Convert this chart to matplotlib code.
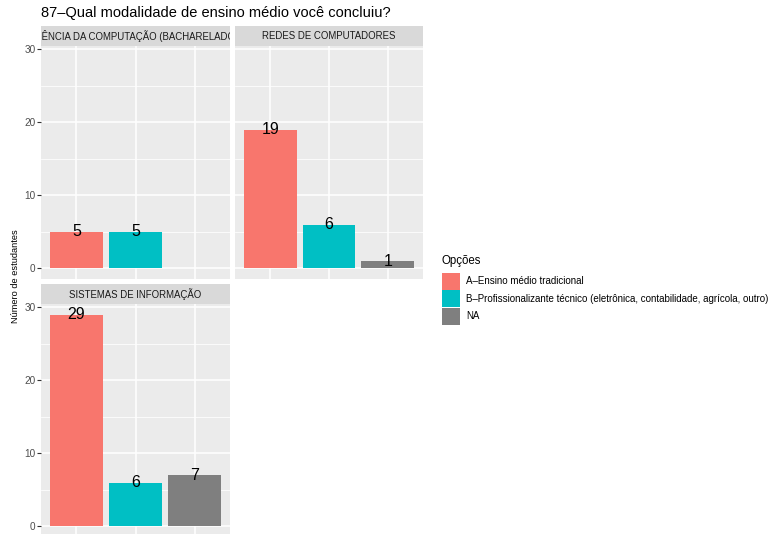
import matplotlib.pyplot as plt
from matplotlib.patches import Rectangle

plt.rcParams['font.family'] = ['Liberation Sans', 'DejaVu Sans']

cursos = ["CIÊNCIA DA COMPUTAÇÃO (BACHARELADO)", "REDES DE COMPUTADORES", "SISTEMAS DE INFORMAÇÃO"]
opcoes = ["A–Ensino médio tradicional",
          "B–Profissionalizante técnico (eletrônica, contabilidade, agrícola, outro)",
          "NA"]
cores = ["#F8766D", "#00BFC4", "#7F7F7F"]
cc_vals = [5, 5, None]
redes_vals = [19, 6, 1]
si_vals = [29, 6, 7]
valores = [cc_vals, redes_vals, si_vals]
yticks = [0, 10, 20, 30]

W, H = 769, 534
fig = plt.figure(figsize=(W / 100, H / 100), dpi=100)
fig.patch.set_facecolor("white")


def rect(x0, y0, x1, y1):
    # pixel box (top-left origin) -> figure fraction
    return [x0 / W, (H - y1) / H, (x1 - x0) / W, (y1 - y0) / H]


# (panel box, strip box, show y labels, show x ticks)
paineis = [
    ((41, 46, 230, 279), (41, 26, 230, 46), True, False),
    ((235, 46, 423, 279), (235, 26, 423, 46), False, False),
    ((41, 304, 230, 537), (41, 284, 230, 304), True, True),
]

for (pbox, sbox, ylab, xtk), nome, vals in zip(paineis, cursos, valores):
    ax = fig.add_axes(rect(*pbox))
    ax.set_facecolor("#EBEBEB")
    for s in ax.spines.values():
        s.set_visible(False)
    ax.set_xlim(0.4, 3.6)
    ax.set_ylim(-1.45, 30.45)
    for y in [5, 15, 25]:
        ax.axhline(y, color="white", lw=0.55, zorder=0)
    for y in yticks:
        ax.axhline(y, color="white", lw=1.1, zorder=0)
    for x in [1, 2, 3]:
        ax.axvline(x, color="white", lw=1.1, zorder=0)
    for i, v in enumerate(vals):
        if v is None:
            continue
        ax.bar(i + 1, v, width=0.9, color=cores[i], zorder=2)
        ax.text(i + 1, v, str(v), ha="center", va="center", fontsize=11.5,
                color="black", zorder=3)
    ax.set_yticks(yticks)
    ax.set_xticks([1, 2, 3])
    ax.tick_params(axis="x", length=2.75 if xtk else 0, color="#333333",
                   width=0.8, labelbottom=False)
    if ylab:
        ax.set_yticklabels([str(t) for t in yticks])
        ax.tick_params(axis="y", length=2.75, color="#333333", width=0.8,
                       labelsize=7.2, labelcolor="#4D4D4D", pad=1.2)
    else:
        ax.tick_params(axis="y", length=0, labelleft=False)

    sx = fig.add_axes(rect(*sbox))
    sx.set_facecolor("#D9D9D9")
    sx.set_xticks([])
    sx.set_yticks([])
    for s in sx.spines.values():
        s.set_visible(False)
    sx.text(0.5, 0.5, nome, ha="center", va="center", fontsize=6.9,
            color="#1A1A1A", transform=sx.transAxes, clip_on=True)

fig.text(41 / W, 1 - 13.5 / H, "87–Qual modalidade de ensino médio você concluiu?",
         ha="left", va="center", fontsize=10.5)
fig.text(15 / W, 1 - 276 / H, "Número de estudantes", rotation=90,
         ha="center", va="center", fontsize=6.7)

# legenda
fig.text(441 / W, 1 - 261 / H, "Opções", ha="left", va="center", fontsize=8.3)
for i, (lab, c) in enumerate(zip(opcoes, cores)):
    y0 = 272.5 + i * 17.6
    fig.add_artist(Rectangle((442 / W, 1 - (y0 + 17.3) / H), 17.6 / W, 17.3 / H,
                             transform=fig.transFigure, facecolor=c, edgecolor="none"))
    fig.text(466 / W, 1 - (y0 + 8.7) / H, lab, ha="left", va="center", fontsize=7.0)

fig.savefig("out.png", dpi=100)
